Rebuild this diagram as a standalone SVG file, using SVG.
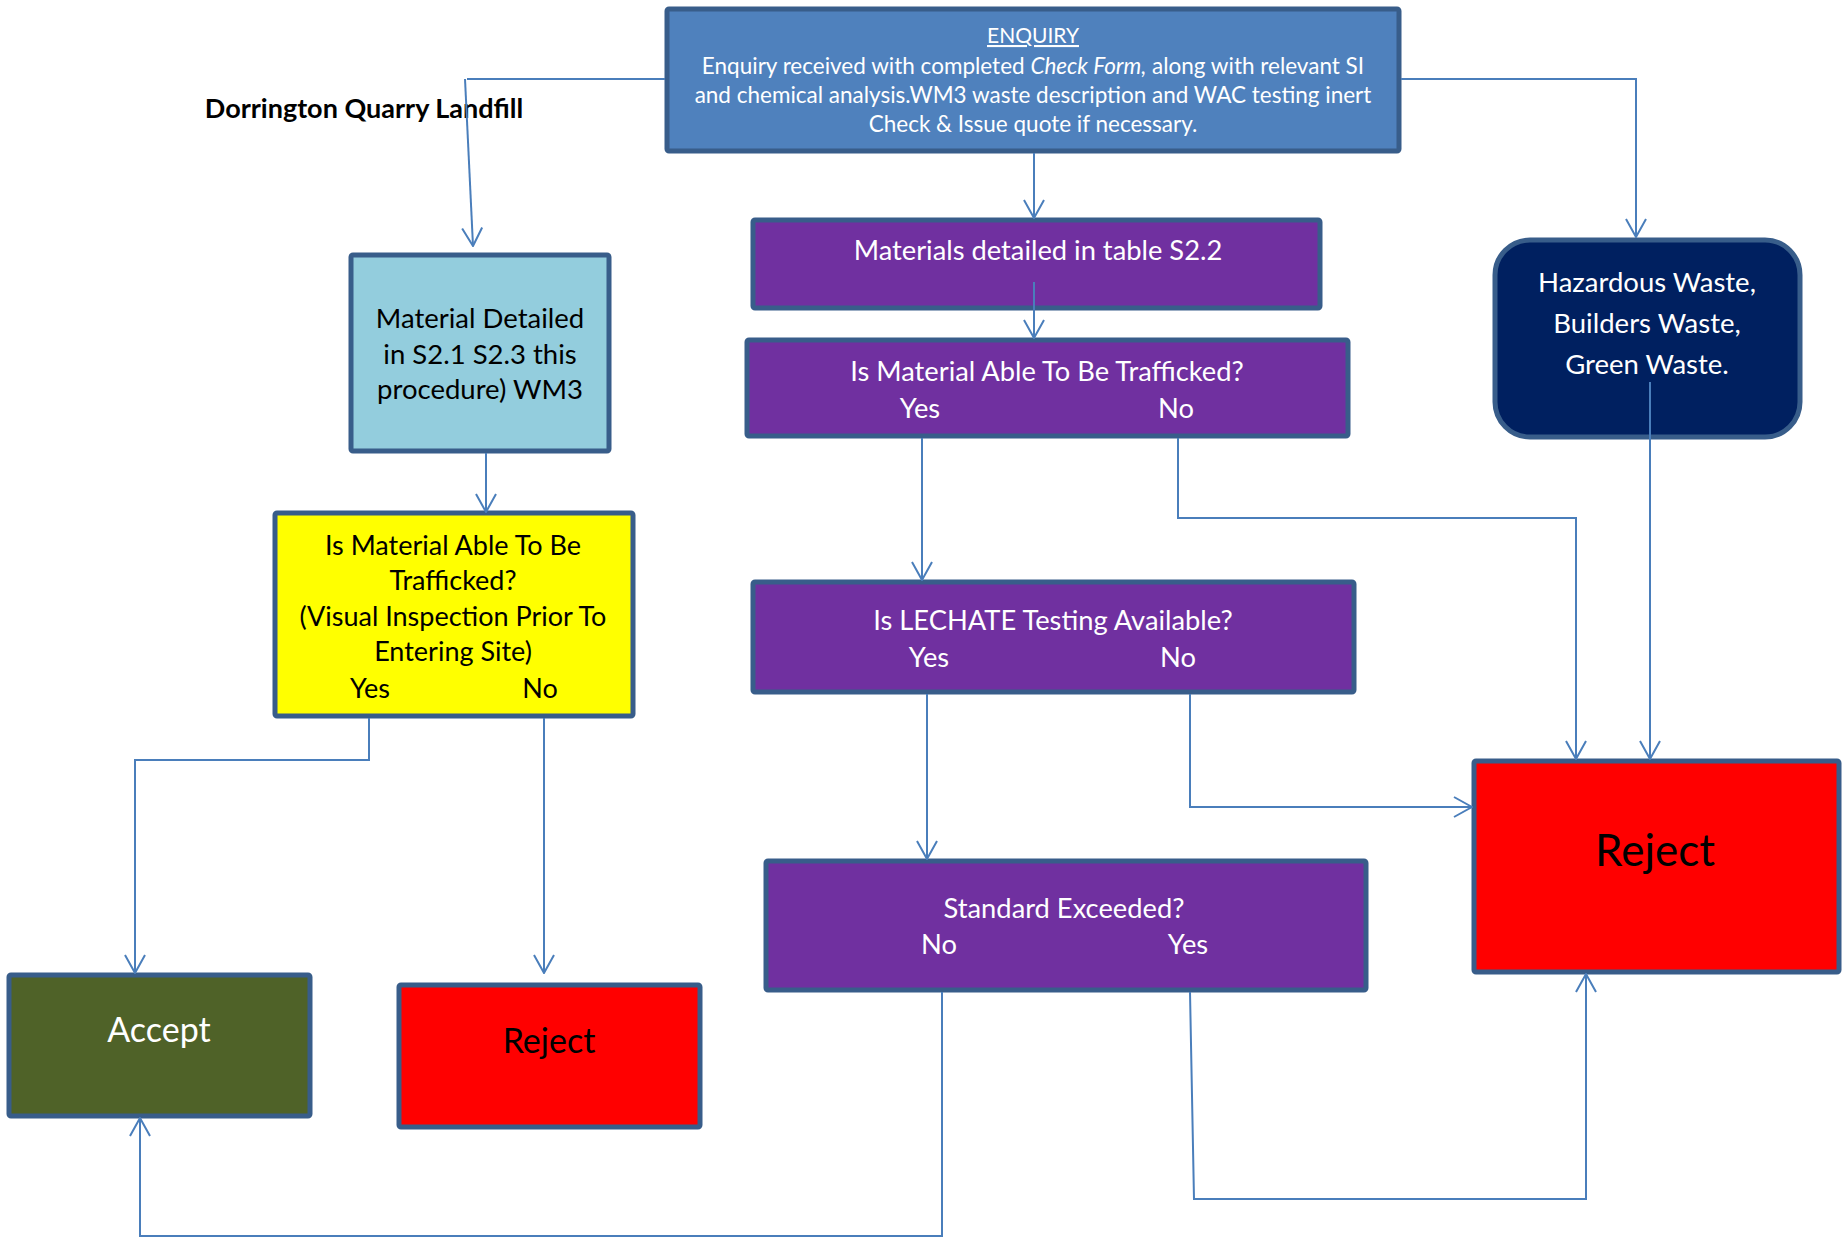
<svg xmlns="http://www.w3.org/2000/svg" width="1842" height="1240" viewBox="0 0 1842 1240">
<defs>
<style>
.box{stroke:#385D8A;stroke-width:5}
.t{font-family:Lato,"Open Sans","Liberation Sans",sans-serif;text-anchor:middle}
.w{fill:#FFFFFF}
.k{fill:#000000}
.p{font-size:27.3px}
.c{fill:none;stroke:#4A7EBB;stroke-width:2}
.a{marker-end:url(#arr)}
</style>
<marker id="arr" viewBox="0 0 20 22" refX="19" refY="11" markerWidth="20" markerHeight="22" markerUnits="userSpaceOnUse" orient="auto">
<path d="M1,1 L19,11 L1,21" fill="none" stroke="#4A7EBB" stroke-width="2"/>
</marker>
</defs>
<rect width="1842" height="1240" fill="#FFFFFF"/>

<g id="title">
<text class="t k" x="364" y="118" font-size="27" font-weight="bold">Dorrington Quarry Landfill</text>
</g>

<g id="enquiry">
<rect class="box" x="667" y="9" width="732" height="142" rx="2" fill="#4F81BD"/>
<text class="t w" x="1033" y="43" font-size="21" text-decoration="underline">ENQUIRY</text>
<text class="t w" x="1033" y="74" font-size="22.5">Enquiry received with completed <tspan font-style="italic">Check Form,</tspan> along with relevant SI</text>
<text class="t w" x="1033" y="103" font-size="22.5">and chemical analysis.WM3 waste description and WAC testing inert</text>
<text class="t w" x="1033" y="132" font-size="22.5">Check &amp; Issue quote if necessary.</text>
</g>

<g id="material-detailed">
<rect class="box" x="351" y="255" width="258" height="196" rx="2" fill="#93CDDD"/>
<text class="t k" x="480" y="328" font-size="27.5">Material Detailed</text>
<text class="t k" x="480" y="364" font-size="27.5">in S2.1 S2.3 this</text>
<text class="t k" x="480" y="399" font-size="27.5">procedure) WM3</text>
</g>

<g id="trafficked-visual">
<rect class="box" x="275" y="513" width="358" height="203" rx="2" fill="#FFFF00"/>
<text class="t k" x="453" y="555" font-size="27">Is Material Able To Be</text>
<text class="t k" x="453" y="590" font-size="27">Trafficked?</text>
<text class="t k" x="453" y="626" font-size="27">(Visual Inspection Prior To</text>
<text class="t k" x="453" y="661" font-size="27">Entering Site)</text>
<text class="t k" x="370" y="698" font-size="27">Yes</text>
<text class="t k" x="540" y="698" font-size="27">No</text>
</g>

<g id="materials-s22">
<rect class="box" x="753" y="220" width="567" height="88" rx="2" fill="#7030A0"/>
<text class="t w p" x="1038" y="260">Materials detailed in table S2.2</text>
</g>

<g id="trafficked">
<rect class="box" x="747" y="340" width="601" height="96" rx="2" fill="#7030A0"/>
<text class="t w p" x="1047" y="381">Is Material Able To Be Trafficked?</text>
<text class="t w p" x="920" y="418">Yes</text>
<text class="t w p" x="1176" y="418">No</text>
</g>

<g id="hazardous">
<rect class="box" x="1495" y="240" width="305" height="197" rx="35" fill="#002060"/>
<text class="t w" x="1647" y="292" font-size="27.5">Hazardous Waste,</text>
<text class="t w" x="1647" y="333" font-size="27.5">Builders Waste,</text>
<text class="t w" x="1647" y="374" font-size="27.5">Green Waste.</text>
</g>

<g id="lechate">
<rect class="box" x="753" y="582" width="601" height="110" rx="2" fill="#7030A0"/>
<text class="t w p" x="1053" y="630">Is LECHATE Testing Available?</text>
<text class="t w p" x="929" y="667">Yes</text>
<text class="t w p" x="1178" y="667">No</text>
</g>

<g id="standard">
<rect class="box" x="766" y="861" width="600" height="129" rx="2" fill="#7030A0"/>
<text class="t w p" x="1064" y="918">Standard Exceeded?</text>
<text class="t w p" x="939" y="954">No</text>
<text class="t w p" x="1188" y="954">Yes</text>
</g>

<g id="accept">
<rect class="box" x="9" y="975" width="301" height="141" rx="2" fill="#4F6228"/>
<text class="t w" x="159" y="1042" font-size="34">Accept</text>
</g>

<g id="reject-small">
<rect class="box" x="399" y="985" width="301" height="142" rx="2" fill="#FF0000"/>
<text class="t k" x="549" y="1053" font-size="34">Reject</text>
</g>

<g id="reject-big">
<rect class="box" x="1474" y="761" width="365" height="211" rx="2" fill="#FF0000"/>
<text class="t k" x="1655" y="866" font-size="44">Reject</text>
</g>

<g id="connectors">
<path class="c" d="M665,79 H467"/>
<path class="c a" d="M465,79 L473,246"/>
<path class="c a" d="M1034,153 V218"/>
<path class="c a" d="M1401,79 H1636 V237"/>
<path class="c a" d="M1034,282 V338"/>
<path class="c a" d="M922,438 V580"/>
<path class="c a" d="M1178,438 V518 H1576 V759"/>
<path class="c a" d="M1650,382 V759"/>
<path class="c a" d="M927,694 V859"/>
<path class="c a" d="M1190,694 V807 H1472"/>
<path class="c a" d="M942,992 V1236 H140 V1118"/>
<path class="c a" d="M1190,992 L1194,1199 H1586 V974"/>
<path class="c a" d="M486,453 V512"/>
<path class="c a" d="M369,718 V760 H135 V973"/>
<path class="c a" d="M544,718 V973"/>
</g>
</svg>
